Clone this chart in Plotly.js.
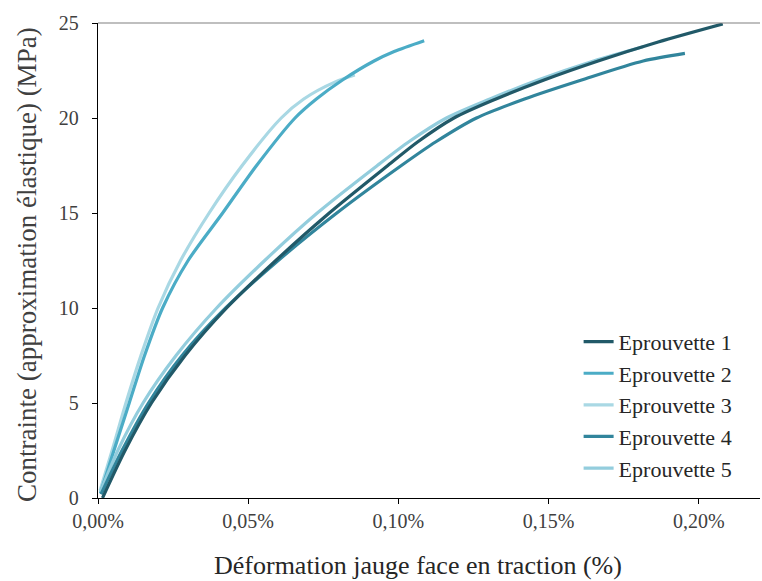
<!DOCTYPE html>
<html>
<head>
<meta charset="utf-8">
<script src="https://cdn.plot.ly/plotly-3.0.1.min.js"></script>
<style>html,body{margin:0;padding:0;background:#fff;}#chart{width:762px;height:581px;}</style>
</head>
<body>
<div id="chart"></div>
<script>
// Series names and colours
const seriesNames = ["Eprouvette 1", "Eprouvette 2", "Eprouvette 3", "Eprouvette 4", "Eprouvette 5"];
const seriesColors = ["#215968", "#4BACC6", "#A9D8E4", "#31859C", "#93CDDD"];

// Eprouvette 1 : déformation (%) / contrainte (MPa)
const e1x = [0.0015, 0.0090, 0.0178, 0.0290, 0.0428, 0.0592, 0.0770, 0.0965, 0.1065, 0.1185, 0.1325, 0.1485, 0.1665, 0.1865, 0.2080];
const e1y = [0.0, 2.5, 5.0, 7.5, 10.0, 12.5, 15.0, 17.5, 18.75, 20.0, 21.0, 22.0, 23.0, 24.0, 24.95];

// Eprouvette 2
const e2x = [0.0008, 0.0053, 0.0104, 0.0155, 0.0215, 0.0300, 0.0415, 0.0528, 0.0656, 0.0727, 0.0814, 0.0919, 0.0986, 0.1086];
const e2y = [0.25, 2.5, 5.0, 7.5, 10.0, 12.5, 15.0, 17.5, 20.0, 21.0, 22.0, 23.0, 23.5, 24.07];

// Eprouvette 3
const e3x = [0.0007, 0.0047, 0.0093, 0.0143, 0.0200, 0.0275, 0.0370, 0.0480, 0.0610, 0.0685, 0.0790, 0.0855];
const e3y = [0.4, 2.5, 5.0, 7.5, 10.0, 12.5, 15.0, 17.5, 20.0, 21.0, 21.9, 22.26];

// Eprouvette 4
const e4x = [0.0010, 0.0080, 0.0168, 0.0280, 0.0425, 0.0600, 0.0795, 0.1010, 0.1125, 0.1260, 0.1420, 0.1610, 0.1815, 0.1954];
const e4y = [0.2, 2.5, 5.0, 7.5, 10.0, 12.5, 15.0, 17.5, 18.75, 20.0, 21.0, 22.0, 23.0, 23.4];

// Eprouvette 5
const e5x = [0.0008, 0.0066, 0.0150, 0.0260, 0.0395, 0.0555, 0.0730, 0.0930, 0.1035, 0.1160, 0.1305, 0.1465, 0.1650, 0.1815];
const e5y = [0.3, 2.5, 5.0, 7.5, 10.0, 12.5, 15.0, 17.5, 18.75, 20.0, 21.0, 22.0, 23.0, 23.75];

// Axis ticks and titles
const xTicks = [0, 0.05, 0.10, 0.15, 0.20];
const xTickText = xTicks.map(v => v.toFixed(2).replace(".", ",") + "%");
const yTicks = [0, 5, 10, 15, 20, 25];
const xTitle = "Déformation jauge face en traction (%)";
const yTitle = "Contrainte (approximation élastique) (MPa)";

const xs = [e1x, e2x, e3x, e4x, e5x];
const ys = [e1y, e2y, e3y, e4y, e5y];
const drawOrder = [2, 1, 4, 3, 0];

const traces = [];
drawOrder.forEach(i => {
  traces.push({
    type: "scatter", mode: "lines",
    x: xs[i], y: ys[i], name: seriesNames[i],
    legendrank: i + 1,
    line: {color: seriesColors[i], width: 3.2, shape: "spline", smoothing: 0.8}
  });
});

const serif = "Liberation Serif, DejaVu Serif, serif";
const layout = {
  width: 762, height: 581,
  margin: {l: 98, r: 2, t: 23, b: 83},
  paper_bgcolor: "#fff", plot_bgcolor: "#fff",
  font: {family: serif, color: "#404040", size: 20},
  showlegend: true,
  legend: {
    x: 0.726, y: 0.373, xanchor: "left", yanchor: "top",
    font: {family: serif, size: 22, color: "#262626"},
    bgcolor: "rgba(255,255,255,0)", tracegroupgap: 0,
    itemwidth: 30, traceorder: "normal"
  },
  xaxis: {
    range: [0, 0.2204], tickvals: xTicks, ticktext: xTickText,
    showgrid: false, zeroline: false, showline: true, linecolor: "#000", linewidth: 1.3,
    ticks: "outside", ticklen: 5, tickcolor: "#000",
    tickfont: {family: serif, size: 20, color: "#404040"}
  },
  yaxis: {
    range: [0, 25], tickvals: yTicks,
    showgrid: false, zeroline: false, showline: true, linecolor: "#000", linewidth: 1.3,
    ticks: "outside", ticklen: 5, tickcolor: "#000", ticklabelstandoff: 9,
    tickfont: {family: serif, size: 20, color: "#404040"}
  },
  annotations: [
    {text: xTitle, xref: "paper", yref: "paper", x: (418 - 98) / 662, y: -(565 - 498) / 475,
     xanchor: "center", yanchor: "middle", showarrow: false,
     font: {family: serif, size: 26, color: "#262626"}},
    {text: yTitle, xref: "paper", yref: "paper", x: -(98 - 27) / 662, y: (498 - 265) / 475,
     xanchor: "center", yanchor: "middle", showarrow: false, textangle: -90,
     font: {family: serif, size: 27, color: "#404040"}}
  ],
  shapes: [{type: "line", xref: "paper", yref: "paper", x0: 0, x1: 1, y0: 1, y1: 1, line: {color: "#808080", width: 1.2}}]
};

Plotly.newPlot("chart", traces, layout, {staticPlot: true, displayModeBar: false});
</script>
</body>
</html>
